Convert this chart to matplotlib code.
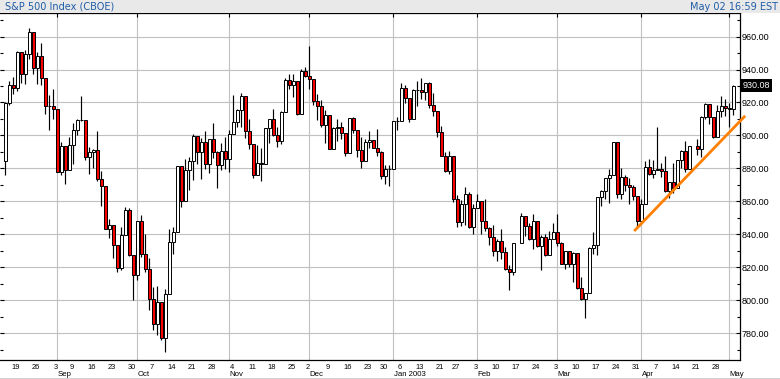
import matplotlib
matplotlib.use("Agg")
import matplotlib.pyplot as plt
import numpy as np
import pandas as pd
from matplotlib.patches import Rectangle
from matplotlib.transforms import blended_transform_factory

# ---------------- data ----------------
title_left = "S&P 500 Index (CBOE)"
title_right = "May 02 16:59 EST"
start_date = "2002-08-14"
end_date = "2003-05-02"
closed_days = ["2002-09-02", "2002-11-28", "2002-12-25", "2003-01-01", "2003-01-20"]

opens = [
    884.2, 919.6, 930.3, 928.8, 950.7, 937.4, 949.4, 962.7, 940.9, 948.0,
    934.8, 917.9, 917.8, 916.1, 878.0, 893.4, 879.2, 893.9, 903.0, 909.6,
    909.5, 886.9, 889.8, 891.1, 873.5, 869.5, 843.3, 845.4, 833.7, 819.3,
    839.7, 855.0, 827.4, 815.3, 847.9, 827.9, 818.9, 800.6, 785.3, 798.6,
    776.8, 803.9, 835.3, 841.4, 881.3, 860.0, 879.2, 884.4, 899.7, 890.2,
    896.1, 882.5, 897.7, 890.2, 882.2, 890.7, 885.8, 901.0, 908.4, 915.4,
    923.8, 902.7, 894.7, 876.2, 883.0, 882.5, 904.3, 909.8, 900.4, 896.7,
    914.2, 933.8, 930.6, 932.9, 913.3, 938.9, 936.3, 934.5, 920.8, 917.6,
    906.6, 912.2, 892.0, 904.5, 905.0, 901.6, 889.5, 910.4, 903.0, 891.1,
    884.3, 895.8, 897.4, 892.5, 889.7, 875.4, 879.4, 879.8, 909.0, 908.6,
    929.0, 922.9, 909.9, 927.6, 927.6, 926.3, 931.7, 918.2, 914.6, 901.8,
    887.6, 878.4, 887.3, 861.4, 847.5, 858.5, 864.4, 844.6, 855.7, 860.3,
    848.2, 843.6, 838.2, 829.7, 836.0, 829.2, 818.7, 817.4, None, 834.9,
    851.2, 845.1, 837.1, 848.2, 832.6, 838.6, 827.6, 837.3, 841.2, 834.8,
    822.0, 829.9, 822.1, 828.9, 807.5, 800.7, 804.2, 831.9, 833.3, 862.8,
    866.5, 874.0, 875.7, 895.8, 864.2, 874.7, 870.0, 868.5, 863.5, 848.2,
    858.5, 880.9, 876.5, 878.9, 879.9, 878.3, 866.0, 871.6, 868.3, 885.2,
    890.8, 879.9, None, 893.6, 892.0, 911.4, 919.0, 911.4, 898.8, 914.8,
    917.8, 916.9, 916.3,
]
highs = [
    920.2, 933.3, 935.6, 951.2, 950.7, 951.6, 965.0, 962.7, 950.8, 955.8,
    934.8, 924.6, 928.1, 916.1, 896.1, 893.4, 899.1, 907.3, 909.9, 924.0,
    909.5, 892.8, 892.0, 902.7, 878.5, 869.5, 849.3, 845.4, 833.7, 844.2,
    856.6, 856.0, 827.4, 847.9, 851.9, 840.0, 825.9, 808.2, 808.9, 798.6,
    806.5, 843.3, 844.4, 881.3, 881.3, 885.4, 886.7, 900.7, 899.7, 898.7,
    902.9, 897.7, 907.4, 890.6, 895.3, 898.8, 903.4, 924.6, 915.8, 925.7,
    923.8, 910.1, 894.7, 894.3, 892.5, 904.3, 910.1, 915.9, 905.4, 915.0,
    935.1, 937.1, 937.2, 932.9, 940.4, 941.8, 954.3, 934.5, 925.3, 921.5,
    915.5, 912.2, 904.9, 909.9, 908.4, 901.6, 910.4, 911.2, 903.0, 899.2,
    897.8, 902.4, 897.4, 903.9, 890.5, 882.1, 881.9, 909.0, 911.3, 931.8,
    930.8, 922.9, 928.3, 932.9, 935.1, 931.7, 932.6, 926.0, 914.6, 906.0,
    889.7, 890.3, 887.3, 863.9, 860.8, 868.7, 865.5, 858.3, 864.6, 860.3,
    861.6, 844.2, 845.6, 837.2, 843.0, 832.1, 821.3, 834.9, None, 852.9,
    851.2, 847.0, 852.3, 848.2, 839.6, 840.1, 842.2, 847.0, 852.3, 835.4,
    829.9, 829.9, 829.0, 828.9, 814.3, 804.2, 832.0, 841.4, 862.8, 866.9,
    874.3, 879.6, 895.9, 895.8, 880.3, 875.8, 874.1, 869.9, 863.5, 861.3,
    884.6, 885.9, 885.0, 904.9, 883.1, 887.4, 872.0, 883.3, 885.3, 891.3,
    896.8, 893.8, None, 898.0, 911.7, 919.7, 919.0, 911.4, 918.2, 924.2,
    922.0, 919.7, 930.6,
]
lows = [
    876.2, 918.2, 925.0, 926.9, 931.9, 931.3, 946.4, 937.2, 931.0, 930.4,
    913.2, 903.3, 910.0, 877.5, 875.7, 870.5, 879.2, 882.9, 900.5, 908.5,
    884.8, 876.5, 880.0, 872.4, 857.4, 843.1, 837.9, 825.8, 817.4, 818.5,
    839.7, 826.8, 800.2, 812.0, 826.2, 817.3, 794.1, 782.0, 778.7, 775.8,
    768.6, 803.9, 828.3, 841.4, 856.3, 860.0, 866.6, 873.1, 882.4, 873.3,
    879.6, 877.0, 886.2, 867.9, 879.2, 879.8, 877.7, 900.9, 904.9, 905.0,
    898.7, 891.6, 874.2, 876.2, 872.1, 882.5, 895.3, 899.5, 893.1, 894.9,
    914.2, 928.4, 923.3, 912.1, 913.3, 935.6, 928.0, 918.7, 909.5, 905.0,
    895.7, 891.9, 892.0, 896.5, 897.8, 887.8, 889.5, 901.7, 887.1, 880.3,
    884.3, 892.3, 892.3, 887.5, 873.6, 870.6, 869.5, 879.8, 903.1, 908.6,
    919.9, 908.3, 909.9, 917.7, 922.1, 921.7, 916.7, 911.5, 899.0, 887.6,
    877.6, 876.8, 859.7, 844.3, 845.3, 845.9, 843.7, 840.3, 855.7, 840.2,
    842.1, 833.3, 826.7, 823.5, 825.1, 818.5, 806.3, 815.0, None, 834.9,
    838.8, 836.4, 831.2, 832.2, 818.5, 826.7, 827.6, 837.3, 832.7, 821.9,
    819.0, 819.9, 811.2, 806.6, 800.3, 788.9, 804.2, 828.3, 827.2, 857.4,
    861.2, 859.0, 875.7, 862.0, 861.3, 866.5, 858.1, 860.8, 843.7, 847.9,
    858.5, 875.8, 874.0, 878.9, 874.7, 865.7, 862.0, 865.2, 868.3, 880.0,
    877.9, 879.9, None, 888.2, 887.0, 909.9, 906.7, 898.7, 898.8, 911.1,
    911.7, 905.0, 912.6,
]
closes = [
    919.6, 930.3, 928.8, 950.7, 937.4, 949.4, 962.7, 940.9, 948.0, 934.8,
    917.9, 917.8, 916.1, 878.0, 893.4, 879.2, 893.9, 903.0, 909.6, 909.5,
    886.9, 889.8, 891.1, 873.5, 869.5, 843.3, 845.4, 833.7, 819.3, 839.7,
    855.0, 827.4, 815.3, 847.9, 827.9, 818.9, 800.6, 785.3, 798.6, 776.8,
    803.9, 835.3, 841.4, 881.3, 860.0, 879.2, 884.4, 899.7, 890.2, 896.1,
    882.5, 897.7, 890.2, 882.2, 890.7, 885.8, 901.0, 908.4, 915.4, 923.8,
    902.7, 894.7, 876.2, 883.0, 882.5, 904.3, 909.8, 900.4, 896.7, 914.2,
    933.8, 930.6, 932.9, 913.3, 938.9, 936.3, 934.5, 920.8, 917.6, 906.6,
    912.2, 892.0, 904.5, 905.0, 901.6, 889.5, 910.4, 903.0, 891.1, 884.3,
    895.8, 897.4, 892.5, 889.7, 875.4, 879.4, 879.8, 909.0, 908.6, 929.0,
    922.9, 909.9, 927.6, 927.6, 926.3, 931.7, 918.2, 914.6, 901.8, 887.6,
    878.4, 887.3, 861.4, 847.5, 858.5, 864.4, 844.6, 855.7, 860.3, 848.2,
    843.6, 838.2, 829.7, 836.0, 829.2, 818.7, 817.4, 834.9, None, 851.2,
    845.1, 837.1, 848.2, 832.6, 838.6, 827.6, 837.3, 841.2, 834.8, 822.0,
    829.9, 822.1, 828.9, 807.5, 800.7, 804.2, 831.9, 833.3, 862.8, 866.5,
    874.0, 875.7, 895.8, 864.2, 874.7, 870.0, 868.5, 863.5, 848.2, 858.5,
    880.9, 876.5, 878.9, 879.9, 878.3, 866.0, 871.6, 868.3, 885.2, 890.8,
    879.9, 893.6, None, 892.0, 911.4, 919.0, 911.4, 898.8, 914.8, 917.8,
    916.9, 916.3, 930.08,
]

# hand-drawn trend line (trading-day slot, price)
trend_slots = [157.25, 185.0]
trend_prices = [842.0, 911.9]

price_ticks = [780, 800, 820, 840, 860, 880, 900, 920, 940, 960]

# ---------------- layout ----------------
W, H = 780, 379
fig = plt.figure(figsize=(W / 100, H / 100), dpi=100)
fig.patch.set_facecolor("white")

ax_top_px, ax_bot_px, ax_right_px = 13.0, 359.5, 740.0
ax = fig.add_axes([0, (H - ax_bot_px) / H, ax_right_px / W, (ax_bot_px - ax_top_px) / H])
ax.set_facecolor("white")

# header band and bottom line
fig.patches.append(Rectangle((0, (H - 12.5) / H), 1, 12.5 / H, transform=fig.transFigure,
                             fc="#E9E9E9", ec="none", zorder=0))
fig.patches.append(Rectangle((0, 0), 1, 1.3 / H, transform=fig.transFigure,
                             fc="#D2D2D2", ec="none", zorder=0))
hdr_color = "#1F5CA8"
fig.text(5 / W, 1 - 9.6 / H, title_left, fontsize=7, color=hdr_color, va="baseline",
         ha="left", family="DejaVu Sans")
fig.text(778 / W, 1 - 9.6 / H, title_right, fontsize=7, color=hdr_color, va="baseline",
         ha="right", family="DejaVu Sans")

dates = pd.bdate_range(start_date, end_date)
dates = dates[~dates.isin(pd.to_datetime(closed_days))]
n = len(dates)
slots = np.arange(n)

ax.set_xlim(-1.325, 183.7)
ax.set_ylim(764.0, 974.3)

# gridlines
grid_c = "#C0C0C0"
for p in price_ticks:
    ax.axhline(p, color=grid_c, lw=0.8, zorder=1)

month_slots, month_names = [], []
for i in range(1, n):
    if dates[i].month != dates[i - 1].month:
        month_slots.append(i)
        nm = dates[i].strftime("%b")
        if dates[i].month == 1:
            nm += " " + dates[i].strftime("%Y")
        month_names.append(nm)
for s in month_slots:
    ax.axvline(s, color=grid_c, lw=0.8, zorder=1)

week_slots = []
for i in range(1, n):
    if dates[i].isocalendar()[1] != dates[i - 1].isocalendar()[1]:
        week_slots.append(i)

# candles
for i in slots:
    o, h, l, c = opens[i], highs[i], lows[i], closes[i]
    if o is None:
        continue
    ax.vlines(i, l, h, color="black", lw=0.85, zorder=2)
    up = c >= o
    ax.bar(i, abs(c - o), bottom=min(o, c), width=0.82,
           color="white" if up else "#FF0000", edgecolor="black", linewidth=0.7, zorder=3)

# trend line
ax.plot(trend_slots, trend_prices, color="#FF8000", lw=2.0, solid_capstyle="butt",
        zorder=4, clip_on=False)

# axes styling
ax.spines["left"].set_visible(False)
for sp in ["top", "right", "bottom"]:
    ax.spines[sp].set_color("black")
    ax.spines[sp].set_linewidth(0.9)

ax.yaxis.tick_right()
ax.set_yticks(price_ticks)
ax.set_yticklabels([f"{p:.2f}" for p in price_ticks], family="Liberation Sans")
ax.set_yticks(np.arange(770, 971, 10), minor=True)
ax.tick_params(axis="y", which="major", direction="in", length=3, width=0.8,
               left=True, right=True, labelleft=False, labelright=True,
               labelsize=6.5, pad=1.2, colors="black")
ax.tick_params(axis="y", which="minor", direction="in", length=2, width=0.8,
               left=True, right=True)

ax.set_xticks(month_slots)
ax.set_xticklabels([])
ax.tick_params(axis="x", which="both", direction="in", length=3, width=0.8,
               top=True, bottom=False, labelbottom=False, labeltop=False)

# bottom date labels
tr = blended_transform_factory(ax.transData, fig.transFigure)
for s in week_slots:
    ax.text(s - 0.3, 1 - 368.8 / H, str(dates[s].day), transform=tr, ha="center",
            va="baseline", fontsize=5.4, family="Liberation Sans", color="black",
            clip_on=False)
for s, nm in zip(month_slots, month_names):
    ax.text(s + 0.1, 1 - 375.5 / H, nm, transform=tr, ha="left", va="baseline",
            fontsize=5.6, family="Liberation Sans", color="black", clip_on=False)

# last price box
tr2 = blended_transform_factory(ax.transAxes, ax.transData)
ax.text(1.0 + 2.2 / ax_right_px, closes[-1], f"{closes[-1]:.2f}", transform=tr2,
        ha="left", va="center", color="white", fontsize=6.5, family="Liberation Sans",
        bbox=dict(boxstyle="square,pad=0.22", fc="black", ec="none"), zorder=6,
        clip_on=False)

fig.savefig("out.png", dpi=100)
